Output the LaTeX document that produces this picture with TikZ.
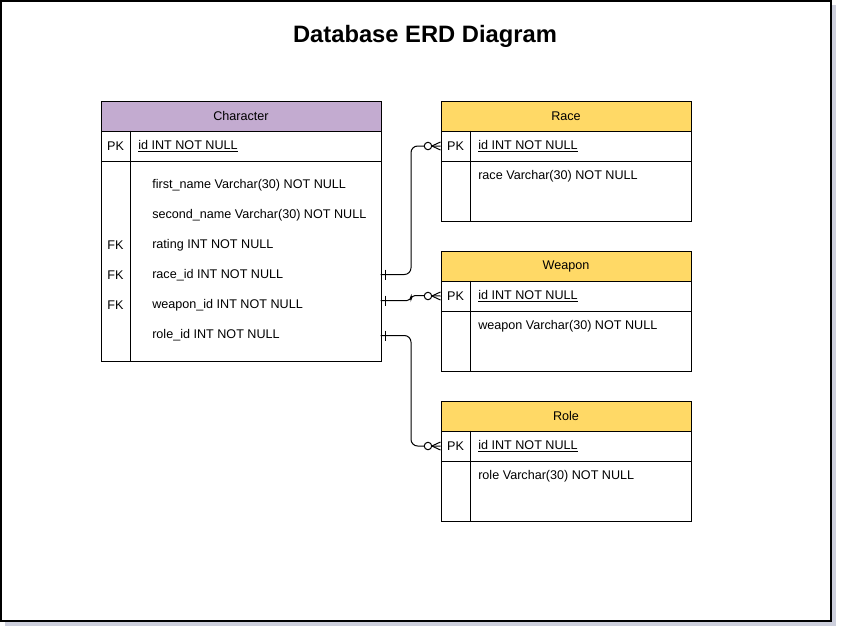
\documentclass[tikz,border=0pt]{standalone}
\usepackage{fontspec}
\setmainfont{Liberation Sans}
\definecolor{hdrpurple}{RGB}{195,171,208}
\definecolor{hdryellow}{RGB}{255,217,102}
\definecolor{shadowgray}{RGB}{205,207,220}
\begin{document}
\begin{tikzpicture}[x=0.75pt,y=-0.75pt,
  every node/.style={font=\fontsize{9.45pt}{11pt}\selectfont, text=black},
  cell/.style={draw=black, line width=0.75pt, rectangle, inner sep=0pt, anchor=north west},
  hdrA/.style={cell, fill=hdrpurple, minimum width=210pt, minimum height=22.5pt},
  hdrB/.style={cell, fill=hdryellow, minimum width=187.5pt, minimum height=22.5pt},
  pkA/.style={cell, fill=white, minimum width=210pt, minimum height=22.5pt},
  pkB/.style={cell, fill=white, minimum width=187.5pt, minimum height=22.5pt},
  bodyA/.style={cell, fill=white, minimum width=210pt, minimum height=150pt},
  bodyB/.style={cell, fill=white, minimum width=187.5pt, minimum height=45pt},
  key/.style={anchor=center, inner sep=0pt},
  fld/.style={anchor=west, inner sep=0pt},
  conn/.style={draw=black, line width=0.75pt, rounded corners=5pt},
  tipline/.style={draw=black, line width=0.75pt},
]
\useasboundingbox (0,0) rectangle (843,633);
% frame with shadow
\fill[shadowgray] (5,5) rectangle (836,626);
\draw[line width=1.3pt, fill=white] (1,1) rectangle (831,621);

\node[font=\bfseries\fontsize{17.8pt}{20pt}\selectfont, anchor=center] (title) at (425,36.5) {Database ERD Diagram};

% ---------- Character ----------
\node[hdrA] (chh) at (100.5,100.5) {};
\node[anchor=center] at (chh.center) {Character};
\node[pkA] (chp) at (100.5,130.5) {};
\node[bodyA] (chb) at (100.5,160.5) {};
\draw[tipline] (130.5,130.5) -- (130.5,360.5);
\node[key] at (115.5,146) {PK};
\node[fld] at (138,146) {\underline{id INT NOT NULL}};
\node[fld] (f1) at (152,185) {first\_name Varchar(30) NOT NULL};
\node[fld] (f2) at (152,215) {second\_name Varchar(30) NOT NULL};
\node[key] at (115.5,245) {FK};
\node[fld] (f3) at (152,245) {rating INT NOT NULL};
\node[key] at (115.5,275) {FK};
\node[fld] (f4) at (152,275) {race\_id INT NOT NULL};
\node[key] at (115.5,305) {FK};
\node[fld] (f5) at (152,305) {weapon\_id INT NOT NULL};
\node[fld] (f6) at (152,335) {role\_id INT NOT NULL};

% ---------- Race ----------
\node[hdrB] (rah) at (440.5,100.5) {};
\node[anchor=center] at (rah.center) {Race};
\node[pkB] (rap) at (440.5,130.5) {};
\node[bodyB] (rab) at (440.5,160.5) {};
\draw[tipline] (470.5,130.5) -- (470.5,220.5);
\node[key] at (455.5,146) {PK};
\node[fld] at (478,146) {\underline{id INT NOT NULL}};
\node[fld] at (478,176) {race Varchar(30) NOT NULL};

% ---------- Weapon ----------
\node[hdrB] (weh) at (440.5,250.5) {};
\node[anchor=center] at (weh.center) {Weapon};
\node[pkB] (wep) at (440.5,280.5) {};
\node[bodyB] (web) at (440.5,310.5) {};
\draw[tipline] (470.5,280.5) -- (470.5,370.5);
\node[key] at (455.5,296) {PK};
\node[fld] at (478,296) {\underline{id INT NOT NULL}};
\node[fld] at (478,326) {weapon Varchar(30) NOT NULL};

% ---------- Role ----------
\node[hdrB] (roh) at (440.5,400.5) {};
\node[anchor=center] at (roh.center) {Role};
\node[pkB] (rop) at (440.5,430.5) {};
\node[bodyB] (rob) at (440.5,460.5) {};
\draw[tipline] (470.5,430.5) -- (470.5,520.5);
\node[key] at (455.5,446) {PK};
\node[fld] at (478,446) {\underline{id INT NOT NULL}};
\node[fld] at (478,476) {role Varchar(30) NOT NULL};

% ---------- connectors ----------
\coordinate (s1) at (380.5,274.5);
\coordinate (e1) at (rap.west);
\coordinate (s2) at (380.5,300.5);
\coordinate (e2) at (wep.west);
\coordinate (s3) at (380.5,335.5);
\coordinate (e3) at (rop.west);

\draw[conn] (s1) -| (411,200) |- (e1);
\draw[conn, rounded corners=3pt] (s2) -- (411,300.5) -- (411,295.5) -- (e2);
\draw[conn] (s3) -| (411,400) |- (e3);

% one-bars at start
\foreach \s in {s1,s2,s3}{
  \draw[tipline] ([xshift=3.75pt,yshift=3.75pt]\s) -- ([xshift=3.75pt,yshift=-3.75pt]\s);
}
% zero-or-many at end
\foreach \e in {e1,e2,e3}{
  \draw[tipline] ([xshift=-6.5pt]\e) -- ([yshift=3pt]\e);
  \draw[tipline] ([xshift=-6.5pt]\e) -- ([yshift=-3pt]\e);
  \draw[tipline, fill=white] ([xshift=-9.4pt]\e) circle (2.8pt);
}
\end{tikzpicture}
\end{document}
